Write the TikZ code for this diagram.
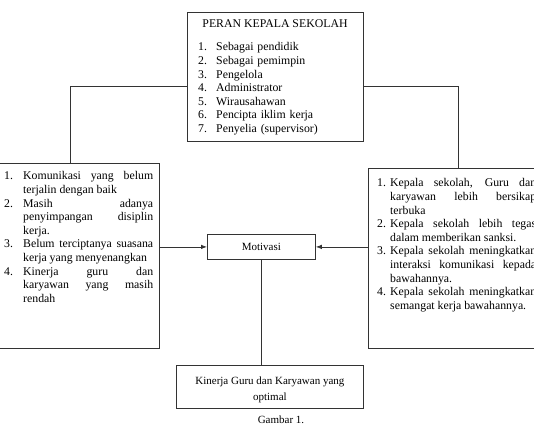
\documentclass[tikz,border=0pt]{standalone}
\usepackage{fontspec}
\setmainfont{Liberation Serif}
\usepackage{enumitem}
\usetikzlibrary{arrows.meta}
\newlist{boxlist}{enumerate}{1}
\setlist[boxlist]{label=\arabic*.,align=left,labelsep=0pt,nosep}
\tikzset{
  box/.style={draw=black!80,line width=0.8pt,anchor=north west,inner sep=0pt},
  conn/.style={draw=black!80,line width=0.8pt},
  arr/.style={conn,-{Latex[length=6pt,width=4.5pt]}},
  txt/.style={inner sep=0pt,font=\fontsize{11}{15.7}\selectfont},
  bigtxt/.style={inner sep=0pt,font=\fontsize{11.8}{13.6}\selectfont},
  listtxt/.style={bigtxt,anchor=north west,align=justify,
    execute at begin node={\tolerance=10000\hyphenpenalty=10000\emergencystretch=3em}}
}
\begin{document}
\begin{tikzpicture}[x=1pt,y=-1pt]
\useasboundingbox (0,0) rectangle (534,428);
\clip (0,0) rectangle (534,428);
% boxes
\node[box,minimum width=176pt,minimum height=129pt] (peran) at (187,12) {};
\node[box,minimum width=178pt,minimum height=185pt] (masalah) at (-19,163) {};
\node[box,minimum width=180pt,minimum height=180pt] (solusi) at (368,168) {};
\node[box,minimum width=108pt,minimum height=25pt] (motiv) at (207,234) {};
\node[box,minimum width=187pt,minimum height=43pt] (kinerja) at (176,365) {};
% texts
\node[bigtxt,anchor=north] (judul) at (275,19) {PERAN KEPALA SEKOLAH};
\node[bigtxt,anchor=north west,text width=150pt] (peranlist) at (198,37) {%
\begin{boxlist}[leftmargin=18pt,labelwidth=18pt]
\item Sebagai pendidik
\item Sebagai pemimpin
\item Pengelola
\item Administrator
\item Wirausahawan
\item Pencipta iklim kerja
\item Penyelia (supervisor)
\end{boxlist}};
\node[listtxt,text width=149pt] (masalahlist) at (4,166) {%
\begin{boxlist}[leftmargin=19pt,labelwidth=19pt]
\item Komunikasi yang belum\linebreak terjalin dengan baik
\item Masih adanya\linebreak penyimpangan disiplin\linebreak kerja.
\item Belum terciptanya suasana\linebreak kerja yang menyenangkan
\item Kinerja guru dan\linebreak karyawan yang masih\linebreak rendah
\end{boxlist}};
\node[listtxt,text width=159pt] (solusilist) at (377,173) {%
\begin{boxlist}[leftmargin=13pt,labelwidth=13pt]
\item Kepala sekolah, Guru dan\linebreak karyawan lebih bersikap\linebreak terbuka
\item Kepala sekolah lebih tegas\linebreak dalam memberikan sanksi.
\item Kepala sekolah meningkatkan\linebreak interaksi komunikasi kepada\linebreak bawahannya.
\item Kepala sekolah meningkatkan\linebreak semangat kerja bawahannya.
\end{boxlist}};
\node[txt] (motivtxt) at (motiv.center) {Motivasi};
\node[txt,align=center] (kinerjatxt) at ([yshift=-3pt]kinerja.center) {Kinerja Guru dan Karyawan yang\\optimal};
\node[txt,anchor=north] (gambar) at (281,416) {Gambar 1.};
% connectors
\draw[conn] ([yshift=-9.5pt]peran.west) -| (masalah.north);
\draw[conn] ([yshift=-9.5pt]peran.east) -| (solusi.north);
\draw[arr] (masalah.east |- motiv.west) -- (motiv.west);
\draw[arr] (solusi.west |- motiv.east) -- (motiv.east);
\draw[conn] (motiv.south) -- (motiv.south |- kinerja.north);
\end{tikzpicture}
\end{document}
